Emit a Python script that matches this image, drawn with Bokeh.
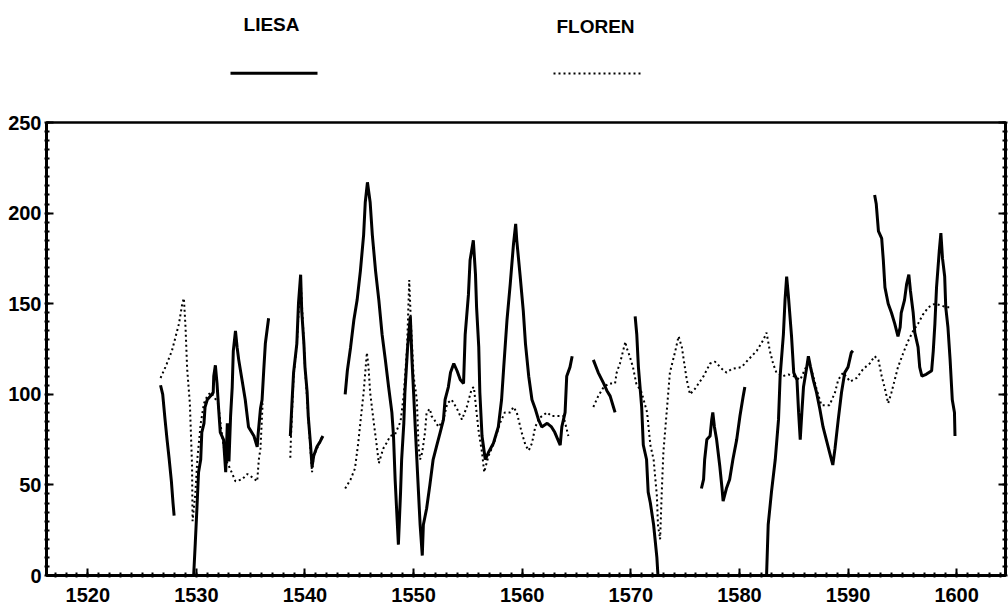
from bokeh.plotting import figure
from bokeh.models import Range1d, LinearAxis, FixedTicker, CustomJSTickFormatter, ColumnDataSource
from bokeh.layouts import column
from bokeh.embed import file_html
from bokeh.resources import INLINE
from bokeh.core.properties import value

# ---------------- data ----------------
series_names = ["LIESA", "FLOREN"]
x_ticks = [1520, 1530, 1540, 1550, 1560, 1570, 1580, 1590, 1600]
y_ticks = [0, 50, 100, 150, 200, 250]

# LIESA (solid line) - segments
liesa_seg1_x = [1526.7, 1526.9, 1527.1, 1527.3, 1527.5, 1527.7, 1527.85, 1527.95]
liesa_seg1_y = [105, 100, 87, 75, 64, 52, 40, 33]

liesa_seg2_x = [1529.75, 1529.9, 1530.05, 1530.2, 1530.4, 1530.5, 1530.7, 1530.8, 1531.0, 1531.3,
                1531.55, 1531.6, 1531.75, 1531.9, 1532.05, 1532.2, 1532.5, 1532.7, 1532.85, 1533.0,
                1533.15, 1533.3, 1533.4, 1533.6, 1533.75, 1533.9, 1534.2, 1534.5, 1534.8, 1535.3,
                1535.6, 1535.7, 1535.9, 1536.05, 1536.2, 1536.35, 1536.65]
liesa_seg2_y = [0, 18, 37, 57, 64, 79, 84, 93, 97, 99,
                101, 110, 116, 106, 92, 79, 75, 57, 84, 63,
                88, 104, 124, 135, 126, 119, 108, 97, 82, 77,
                71, 79, 92, 97, 113, 128, 142]

liesa_seg3_x = [1538.65, 1538.8, 1538.95, 1539.25, 1539.4, 1539.6, 1539.7, 1539.9, 1540.0, 1540.2,
                1540.3, 1540.5, 1540.65, 1540.8, 1541.1, 1541.4, 1541.65]
liesa_seg3_y = [77, 95, 112, 128, 150, 166, 146, 128, 115, 101,
                88, 73, 60, 66, 71, 74, 77]

liesa_seg4_x = [1543.7, 1543.9, 1544.2, 1544.5, 1544.8, 1545.1, 1545.4, 1545.55, 1545.75, 1546.0,
                1546.2, 1546.5, 1546.8, 1547.1, 1547.4, 1547.7, 1548.0, 1548.15, 1548.3, 1548.45,
                1548.6, 1548.8, 1548.9, 1549.1, 1549.2, 1549.45, 1549.7, 1549.85, 1550.0, 1550.15,
                1550.3, 1550.45, 1550.6, 1550.8, 1550.9, 1551.2, 1551.5, 1551.8, 1552.1, 1552.45,
                1552.75, 1552.9, 1553.2, 1553.4, 1553.7, 1554.0, 1554.3, 1554.6, 1554.75, 1555.05,
                1555.2, 1555.5, 1555.7, 1555.8, 1556.0, 1556.1, 1556.3, 1556.6, 1556.9, 1557.35,
                1557.8, 1558.1, 1558.3, 1558.6, 1558.9, 1559.2, 1559.4, 1559.5, 1559.8, 1560.1,
                1560.3, 1560.6, 1560.9, 1561.2, 1561.5, 1561.8, 1562.3, 1562.7, 1563.0, 1563.5,
                1563.65, 1563.95, 1564.1, 1564.4, 1564.6]
liesa_seg4_y = [100, 113, 126, 141, 152, 168, 188, 206, 217, 206,
                188, 168, 152, 133, 119, 104, 90, 77, 53, 35,
                17, 46, 64, 84, 101, 126, 143, 119, 101, 82,
                64, 46, 28, 11, 28, 37, 50, 64, 71, 79,
                86, 97, 104, 112, 117, 113, 108, 106, 133, 155,
                174, 185, 166, 148, 126, 101, 77, 64, 68, 73,
                82, 97, 115, 141, 161, 183, 194, 185, 166, 146,
                128, 110, 97, 92, 86, 82, 84, 82, 79, 72,
                82, 90, 110, 115, 121]

liesa_seg5_x = [1566.55, 1567.0, 1567.5, 1567.8, 1568.1, 1568.4, 1568.55]
liesa_seg5_y = [119, 112, 106, 102, 99, 93, 90]

liesa_seg6_x = [1570.4, 1570.55, 1570.7, 1571.0, 1571.15, 1571.45, 1571.6, 1571.8, 1572.1, 1572.4, 1572.5]
liesa_seg6_y = [143, 133, 115, 93, 72, 64, 46, 40, 28, 10, 0]

liesa_seg7_x = [1576.5, 1576.7, 1576.8, 1577.0, 1577.3, 1577.45, 1577.55, 1577.7, 1577.9, 1578.2,
                1578.4, 1578.5, 1578.8, 1579.1, 1579.4, 1579.75, 1580.05, 1580.35, 1580.5]
liesa_seg7_y = [48, 53, 64, 75, 77, 86, 90, 82, 75, 60,
                48, 41, 48, 53, 64, 75, 88, 99, 104]

liesa_seg8_x = [1582.5, 1582.65, 1582.95, 1583.3, 1583.6, 1583.75, 1584.05, 1584.2, 1584.35, 1584.5,
                1584.8, 1585.0, 1585.3, 1585.45, 1585.6, 1585.75, 1585.9, 1586.2, 1586.35, 1586.55,
                1586.8, 1587.1, 1587.4, 1587.7, 1588.0, 1588.3, 1588.6, 1588.8, 1589.1, 1589.4,
                1589.7, 1590.0, 1590.3, 1590.45]
liesa_seg8_y = [0, 28, 46, 64, 86, 110, 133, 152, 165, 155,
                132, 112, 108, 90, 75, 90, 104, 115, 121, 115,
                108, 101, 92, 82, 75, 68, 61, 70, 86, 101,
                112, 115, 123, 124]

liesa_seg9_x = [1592.45, 1592.6, 1592.8, 1593.1, 1593.25, 1593.4, 1593.7, 1594.0, 1594.3, 1594.6,
                1594.8, 1594.9, 1595.2, 1595.4, 1595.6, 1595.75, 1596.0, 1596.15, 1596.45, 1596.6,
                1596.8, 1597.2, 1597.7, 1597.85, 1598.0, 1598.15, 1598.4, 1598.55, 1598.7, 1598.9,
                1599.0, 1599.2, 1599.4, 1599.6, 1599.8, 1599.85]
liesa_seg9_y = [210, 205, 190, 186, 174, 159, 150, 145, 139, 132,
                137, 145, 152, 161, 166, 157, 145, 134, 126, 115,
                110, 111, 113, 124, 139, 159, 179, 189, 175, 165,
                148, 137, 119, 97, 90, 77]

# FLOREN (dotted line) - segments
floren_seg1_x = [1526.7, 1527.15, 1527.75, 1528.4, 1528.7, 1528.85, 1529.0, 1529.15, 1529.4, 1529.6,
                 1529.65, 1529.9, 1530.1, 1530.4, 1530.7, 1531.0, 1531.3, 1531.6, 1532.0, 1532.3,
                 1532.7, 1533.1, 1533.6, 1534.2, 1534.7, 1535.2, 1535.6, 1535.75, 1535.9, 1536.1]
floren_seg1_y = [109, 115, 124, 139, 150, 153, 137, 114, 95, 61,
                 30, 45, 65, 84, 95, 99, 101, 99, 95, 80,
                 64, 59, 52, 53, 56, 54, 52, 64, 70, 95]

floren_seg2_x = [1538.65, 1538.7, 1538.95, 1539.25, 1539.5, 1539.6, 1539.8, 1540.0, 1540.3, 1540.5,
                 1540.65, 1540.8, 1541.1, 1541.4, 1541.6]
floren_seg2_y = [65, 75, 110, 128, 155, 163, 140, 115, 88, 70,
                 57, 66, 70, 74, 77]

floren_seg3_x = [1543.7, 1544.2, 1544.6, 1544.9, 1545.2, 1545.4, 1545.7, 1545.85, 1546.0, 1546.3,
                 1546.6, 1546.8, 1547.2, 1547.5, 1547.85, 1548.3, 1548.8, 1549.1, 1549.4, 1549.6,
                 1549.75, 1550.0, 1550.3, 1550.45, 1550.6, 1550.8, 1551.05, 1551.2, 1551.5, 1551.65,
                 1551.9, 1552.3, 1552.75, 1553.1, 1553.5, 1554.0, 1554.45, 1554.9, 1555.35, 1555.55,
                 1555.8, 1556.0, 1556.3, 1556.5, 1556.9, 1557.4, 1557.95, 1558.4, 1558.9, 1559.2,
                 1559.5, 1559.95, 1560.3, 1560.6, 1560.9, 1561.2, 1561.6, 1562.3, 1562.7, 1563.3,
                 1563.8, 1564.25]
floren_seg3_y = [48, 53, 59, 73, 90, 101, 123, 115, 101, 86,
                 72, 62, 70, 73, 77, 78, 85, 100, 126, 163,
                 140, 110, 97, 72, 64, 68, 79, 90, 92, 88,
                 86, 82, 86, 95, 97, 92, 86, 93, 103, 104,
                 90, 79, 68, 57, 66, 73, 84, 90, 90, 93,
                 90, 79, 72, 69, 73, 82, 87, 90, 88, 88,
                 88, 77]

floren_seg4_x = [1566.55, 1567.0, 1567.5, 1568.0, 1568.55, 1568.7, 1569.0, 1569.5, 1569.6, 1569.9,
                 1570.2, 1570.5, 1571.0, 1571.5, 1571.8, 1572.1, 1572.4, 1572.5, 1572.7, 1572.85,
                 1573.0, 1573.3, 1573.6, 1574.1, 1574.4, 1574.7, 1575.15, 1575.45, 1575.9, 1576.7,
                 1577.3, 1577.75, 1578.4, 1578.8, 1579.3, 1580.2, 1580.8, 1581.6, 1582.2, 1582.5,
                 1582.8, 1583.1, 1583.4, 1584.0, 1584.5, 1585.0, 1585.6, 1586.05, 1586.4, 1586.8,
                 1587.1, 1587.55, 1588.3, 1588.8, 1589.1, 1589.55, 1590.2, 1590.8, 1591.4, 1592.0,
                 1592.45, 1592.8, 1593.1, 1593.4, 1593.7, 1594.0, 1594.3, 1594.6, 1595.1, 1595.5,
                 1596.0, 1596.45, 1596.9, 1597.4, 1598.0, 1598.6, 1599.05, 1599.35]
floren_seg4_y = [93, 99, 104, 106, 106, 112, 117, 129, 126, 121,
                 115, 106, 101, 90, 72, 64, 44, 28, 20, 46,
                 68, 90, 112, 124, 132, 126, 108, 100, 103, 110,
                 117, 118, 114, 112, 114, 115, 119, 124, 130, 134,
                 124, 117, 112, 110, 111, 110, 108, 114, 118, 110,
                 103, 94, 94, 101, 108, 112, 107, 109, 114, 117,
                 121, 119, 110, 103, 95, 101, 108, 115, 123, 129,
                 135, 139, 144, 148, 150, 149, 148, 148]

liesa_segments = [(liesa_seg1_x, liesa_seg1_y), (liesa_seg2_x, liesa_seg2_y), (liesa_seg3_x, liesa_seg3_y),
                  (liesa_seg4_x, liesa_seg4_y), (liesa_seg5_x, liesa_seg5_y), (liesa_seg6_x, liesa_seg6_y),
                  (liesa_seg7_x, liesa_seg7_y), (liesa_seg8_x, liesa_seg8_y), (liesa_seg9_x, liesa_seg9_y)]
floren_segments = [(floren_seg1_x, floren_seg1_y), (floren_seg2_x, floren_seg2_y),
                   (floren_seg3_x, floren_seg3_y), (floren_seg4_x, floren_seg4_y)]

# ---------------- styling ----------------
FONT = "Liberation Sans"
W = 1008
BORDER_L, BORDER_R = 46, 3
FRAME_W = W - BORDER_L - BORDER_R
LEG_H = 108

# legend strip (own figure above the plot; its frame is aligned with the plot frame)
leg = figure(width=W, height=LEG_H, x_range=Range1d(0, FRAME_W), y_range=Range1d(LEG_H, 0),
             output_backend="svg", toolbar_location=None,
             x_axis_location=None, y_axis_location=None,
             min_border_left=BORDER_L, min_border_right=BORDER_R, min_border_top=0, min_border_bottom=0)
leg.outline_line_color = None
leg.xgrid.visible = False
leg.ygrid.visible = False

leg_src = ColumnDataSource(dict(x=[225, 549], y=[24, 25.5], label=series_names))
leg.text(x="x", y="y", text="label", source=leg_src, text_font=value(FONT), text_font_style="bold",
         text_font_size="19px", text_align="center", text_baseline="middle", text_color="black")
leg.line(x=[184, 271], y=[72.7, 72.7], line_color="black", line_width=3)
leg.line(x=[507, 596], y=[73, 73], line_color="black", line_width=2, line_dash="2 3")

# main plot
p = figure(width=W, height=609 - LEG_H, x_range=Range1d(1516.2, 1604.5), y_range=Range1d(0, 250),
           output_backend="svg", toolbar_location=None,
           min_border_left=BORDER_L, min_border_right=BORDER_R, min_border_top=14, min_border_bottom=34)
p.xgrid.visible = False
p.ygrid.visible = False
p.outline_line_color = "black"
p.outline_line_width = 2.5

for xs, ys in liesa_segments:
    p.line(x=xs, y=ys, line_color="black", line_width=3)
for xs, ys in floren_segments:
    p.line(x=xs, y=ys, line_color="black", line_width=2, line_dash="2 3")

p.xaxis.ticker = FixedTicker(ticks=x_ticks, minor_ticks=list(range(1516, 1605)))
p.yaxis.ticker = FixedTicker(ticks=y_ticks, minor_ticks=list(range(0, 251, 5)))

right_axis = LinearAxis(ticker=FixedTicker(ticks=y_ticks, minor_ticks=list(range(0, 251, 5))),
                        formatter=CustomJSTickFormatter(code="return ''"))
p.add_layout(right_axis, "right")

for ax in [p.xaxis[0], p.yaxis[0], right_axis]:
    ax.axis_line_width = 3
    ax.axis_line_color = "black"
    ax.major_tick_in = 7
    ax.major_tick_out = 0
    ax.major_tick_line_width = 2
    ax.minor_tick_in = 3
    ax.minor_tick_out = 2
    ax.minor_tick_line_width = 2
    ax.major_label_text_font = FONT
    ax.major_label_text_font_style = "bold"
    ax.major_label_text_font_size = "20px"
    ax.major_label_text_color = "black"

p.xaxis.major_label_standoff = 10
p.yaxis[0].major_label_standoff = 3
right_axis.major_label_standoff = 0

layout = column(leg, p, spacing=0)
open("out.html", "w").write(file_html(layout, INLINE))
